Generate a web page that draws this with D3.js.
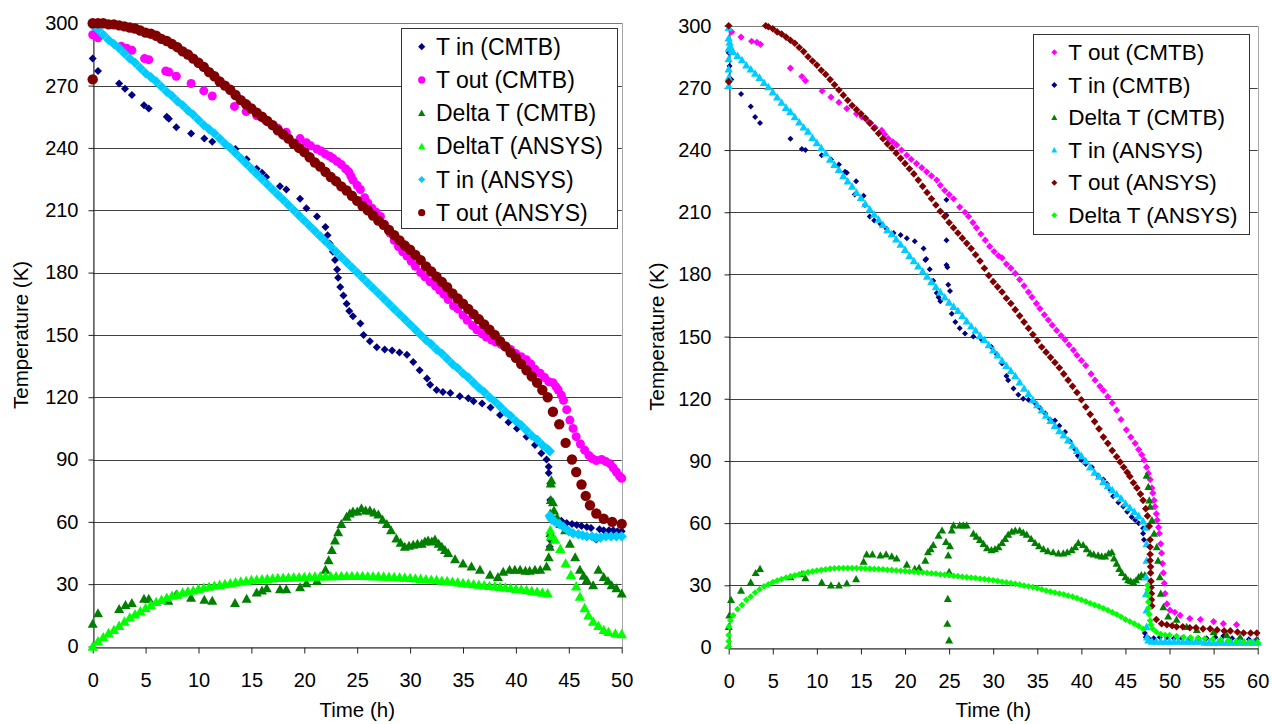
<!DOCTYPE html>
<html>
<head>
<meta charset="utf-8">
<script src="https://cdn.jsdelivr.net/npm/d3@7"></script>
<style>
body { margin: 0; background: #fff; }
text { font-family: "Liberation Sans", Arial, sans-serif; fill: #000; }
</style>
</head>
<body>
<svg id="chart" width="1272" height="724"></svg>
<script>
// ---- shared ticks
var yTicks = [0, 30, 60, 90, 120, 150, 180, 210, 240, 270, 300];
var leftXTicks = [0, 5, 10, 15, 20, 25, 30, 35, 40, 45, 50];
var rightXTicks = [0, 5, 10, 15, 20, 25, 30, 35, 40, 45, 50, 55, 60];

// ---- left chart, [time h, temperature K]
var leftTinCmtb = [[0,283],[0.5,277],[2.5,271],[3.05,268.5],[3.7,265.5],[4.85,260.5],[5.3,259],[7,255],[7.2,254],[7.9,250],[9.3,247],[10.55,244.5],[11.3,243],[13.5,239.5],[14.55,234.5],[15.5,230],[16,228],[16.4,226],[17.7,221.5],[18.3,220],[19.6,215.5],[20.2,211],[21.2,207],[22,202],[22.2,198],[22.4,194],[22.7,190],[22.9,186],[23.1,181.5],[23.2,177.5],[23.4,173],[23.7,169],[24,165],[24.25,161.5],[24.6,159],[25.3,155.5],[25.6,150],[26.2,147],[26.85,144],[27.6,143],[28.3,142.5],[29,141.5],[29.7,140.5],[30.3,137],[30.9,133],[31.6,129],[31.9,126],[32.5,123.5],[33.1,122.5],[33.8,122],[34.7,120.5],[35.5,119.5],[36,118],[36.8,117],[37.6,115],[38.5,111.5],[39.3,108],[40.1,105],[41,101],[41.8,97],[42.4,93],[42.9,90],[43.1,86.5],[43.1,83.5],[43.25,78.5],[43.25,70.5],[43.2,48],[43.3,51],[43.85,61.5],[44.3,60.5],[44.8,59.5],[45.3,59],[45.75,58.5],[46.2,58],[46.7,57.5],[47.1,57],[47.6,51.5],[47.9,56.5],[48.3,56],[48.8,56],[49.2,56],[49.6,55.5],[50,55.5]];
var leftToutCmtb = [[0,294.5],[0.5,293],[2.7,289],[3.2,288],[3.7,287],[4.9,283],[5.3,282.5],[6.9,277],[7.2,276.5],[7.9,274.5],[9.3,271],[10.5,267.5],[11.3,265],[13.4,260],[14.5,257.5],[15.5,255.5],[16.3,253.5],[17.5,249.5],[18.3,247.5],[19.6,244.5],[20.2,242.5],[20.6,241],[21.2,239.5],[21.6,238.5],[22,237],[22.4,236],[22.7,235],[23.1,233.5],[23.5,232],[23.9,230],[24.2,228.5],[24.4,226.5],[24.6,224.5],[25,222],[25.3,220],[25.7,216],[26,213.5],[26.4,211],[26.8,209],[27.2,207],[27.6,203],[28.1,199],[28.5,195.5],[28.9,192.5],[29.3,190],[29.7,188],[30.1,185.5],[30.5,183],[31,180],[31.4,178],[31.9,175.5],[32.4,173.5],[32.8,171.5],[33.2,169.5],[33.6,167],[34.1,164],[34.5,162.5],[35,159.5],[35.4,157],[35.9,154.5],[36.3,152.5],[36.8,150.5],[37.2,149],[37.7,147.5],[38.1,146.5],[38.6,145.5],[39.1,144],[39.5,143],[40,141],[40.5,139.5],[41,138],[41.4,136],[41.8,133.5],[42.3,131.5],[42.7,129.5],[43.1,127.5],[43.5,127],[43.8,125],[44,123.5],[44.3,121],[44.5,118.5],[44.8,114],[45.1,109],[45.4,105],[45.7,101],[46.1,97.5],[46.5,94.5],[46.9,92],[47.2,90.5],[47.6,89.5],[48.1,90],[48.5,89],[48.9,88],[49.2,86],[49.5,84],[49.8,82],[50,81]];
var leftDtCmtb = [[0,11],[0.5,16],[2.5,18],[3.1,20],[3.7,21],[4.85,23],[5.3,23],[7.15,22],[7.9,25],[9.3,23.5],[10.55,22.5],[11.3,22],[13.45,21],[14.55,23],[15.5,26],[16,27],[16.45,28],[17.7,27.5],[18.3,27.5],[19.6,28.5],[20.2,30.5],[21.2,31.5],[22,37],[22.3,41.5],[22.6,46.5],[22.9,51],[23.2,55],[23.5,59],[24,62.5],[24.3,64],[24.6,65],[25,65],[25.4,66.5],[25.8,65.5],[26.2,65.5],[26.6,64.5],[27,63.5],[27.4,61],[27.8,59],[28.2,56],[28.7,52],[29.1,50],[29.5,48],[29.9,48.5],[30.3,49],[30.7,49.5],[31.1,49.5],[31.4,50.5],[31.7,51],[32.05,50.5],[32.35,51.5],[32.7,49.5],[33,48],[33.3,46.5],[33.6,45],[34.25,42],[35,40],[35.8,38.5],[36.6,37],[37.55,34.5],[38.3,33.5],[38.8,36],[39.4,37],[39.9,37],[40.4,37],[40.9,36.5],[41.3,36.5],[41.8,37],[42.3,37],[42.9,38.5],[43.1,43],[43.2,48],[43.25,54.5],[43.25,64],[43.3,70.5],[43.3,78.5],[43.35,80],[43.5,69.5],[43.6,65.5],[43.9,62],[44.2,59],[44.65,56],[45.1,49.5],[45.6,43],[46.05,37],[46.4,34],[46.7,32],[47.3,29.5],[47.8,37],[48.3,33.5],[48.7,31.5],[49.05,29.5],[49.5,28],[50,25.5]];
var leftDtAnsys = [[0,0],[0.5,2.5],[1,4.5],[1.5,6.5],[2,8],[2.5,10],[3,12],[3.5,14],[4,15.5],[4.5,17],[5,18.5],[5.5,20],[6,21.5],[6.5,22.5],[7,23.5],[7.5,24.5],[8,25],[8.5,26],[9,26.5],[9.5,27],[10,27.8],[10.5,28.3],[11,28.8],[11.5,29.3],[12,29.7],[12.5,30.1],[13,30.5],[13.5,30.9],[14,31.3],[14.5,31.6],[15,32],[15.5,32.2],[16,32.4],[16.5,32.6],[17,32.8],[17.5,33],[18,33.1],[18.5,33.2],[19,33.3],[19.5,33.4],[20,33.5],[20.5,33.6],[21,33.7],[21.5,33.8],[22,33.8],[22.5,33.9],[23,33.9],[23.5,34],[24,34],[24.5,34],[25,34],[25.5,34],[26,33.9],[26.5,33.9],[27,33.8],[27.5,33.7],[28,33.6],[28.5,33.5],[29,33.3],[29.5,33.2],[30,33],[30.5,32.8],[31,32.6],[31.5,32.4],[32,32.2],[32.5,32],[33,31.7],[33.5,31.5],[34,31.2],[34.5,30.9],[35,30.6],[35.5,30.3],[36,30],[36.5,29.8],[37,29.5],[37.5,29.2],[38,29],[38.5,28.7],[39,28.4],[39.5,28.1],[40,27.8],[40.5,27.5],[41,27.2],[41.5,26.8],[42,26.4],[42.5,26],[43,25.6],[43.25,56],[43.3,53],[43.7,51.5],[44.2,47],[44.7,40],[45.2,34.5],[45.7,29],[46.05,24],[46.5,18.5],[46.85,15],[47.3,12],[47.8,10],[48.3,8],[48.75,7],[49.4,6.3],[50,6]];
var leftTinAnsys = [[0,299],[0.5,297],[1,294.5],[1.5,292],[2,290],[2.5,288],[3,285.5],[3.5,283],[4,281],[4.5,278.5],[5,276],[5.5,274],[6,272],[6.5,269.5],[7,267],[7.5,265],[8,262.5],[8.5,260.5],[9,258],[9.5,256],[10,253.5],[10.5,251],[11,249],[11.5,247],[12,244.5],[12.5,242],[13,240],[13.5,237.5],[14,235],[14.5,232.5],[15,230],[15.5,227.5],[16,225],[16.5,222.5],[17,220],[17.5,217.5],[18,215],[18.5,212.5],[19,210],[19.5,207.5],[20,205],[20.5,202.5],[21,200],[21.5,197.5],[22,195],[22.5,192.5],[23,190],[23.5,187.5],[24,185],[24.5,182.5],[25,180],[25.5,177.5],[26,175],[26.5,172.5],[27,170],[27.5,167.5],[28,165],[28.5,162.5],[29,160],[29.5,157.5],[30,155],[30.5,152.5],[31,150],[31.5,147.5],[32,145.5],[32.5,143],[33,141],[33.5,138.5],[34,136],[34.5,134],[35,131.5],[35.5,129.5],[36,127],[36.5,124.5],[37,122.5],[37.5,120],[38,118],[38.5,115.5],[39,113],[39.5,111],[40,108.5],[40.5,106.5],[41,104],[41.5,101.5],[42,99.5],[42.5,97],[43,95],[43.2,94],[43.2,63],[43.3,62],[43.4,61],[43.7,60],[44.1,59],[44.5,57.5],[45,55.5],[45.4,54.5],[45.9,54],[46.3,53.5],[46.7,53],[47.2,53],[47.6,52.5],[48,52.5],[48.5,53],[49,53],[49.5,53],[50,53]];
var leftToutAnsys = [[0,273],[0,300],[0.5,300],[1,300],[1.5,299.5],[2,299.5],[2.5,299],[3,298.5],[3.5,298],[4,297.5],[4.5,296.5],[5,295.5],[5.5,295],[6,294],[6.5,292.5],[7,291.5],[7.5,290],[8,288.5],[8.5,286.5],[9,285],[9.5,283],[10,281],[10.5,279],[11,276.5],[11.5,274.5],[12,272],[12.5,270],[13,268],[13.5,265.5],[14,263],[14.5,261],[15,259],[15.5,257],[16,255],[16.5,253],[17,251],[17.5,248.5],[18,246.5],[18.5,244.5],[19,242],[19.5,240],[20,238],[20.5,235.5],[21,233],[21.5,231],[22,228.5],[22.5,226],[23,224],[23.5,221.5],[24,219.5],[24.5,217],[25,214.5],[25.5,212],[26,210],[26.5,207.5],[27,205],[27.5,203],[28,200.5],[28.5,198],[29,195.5],[29.5,193],[30,191],[30.5,188.5],[31,186],[31.5,183],[32,180.5],[32.5,178],[33,175.5],[33.5,173],[34,170],[34.5,167.5],[35,165],[35.5,162.5],[36,160],[36.5,157.5],[37,155],[37.5,152.5],[38,150],[38.5,147],[39,144.5],[39.5,141.5],[40,139],[40.5,136],[41,133],[41.5,130],[42,127],[42.5,123.5],[43,120],[43.5,113],[44.1,107],[44.7,98],[45.3,90],[45.7,84],[46.2,78],[46.6,72.5],[47,68],[47.6,64],[48.3,61.5],[49.1,60],[50,59]];

// ---- right chart, [time h, temperature K]
var rightToutCmtb = [[0.34,297],[1.4,294.5],[2.6,292.5],[3.2,292],[3.6,291],[7,279.5],[8.3,275.5],[8.7,273.5],[10.6,268.5],[11.6,265.5],[12.5,263],[13.4,260],[14.5,257.5],[15.1,256],[15.65,254.5],[16.1,253],[16.6,251],[17.35,249.5],[17.7,247.5],[18.1,245.5],[18.6,244],[19.05,242.5],[19.6,240],[20.2,237.5],[20.7,235.5],[21.3,233.5],[21.9,231.5],[22.45,229.5],[23,227.5],[23.6,225.5],[24,223],[24.5,220.5],[25,218.5],[25.5,216.5],[26.2,212.5],[26.8,210],[27.2,208],[27.7,205],[28.1,202.5],[28.6,199.5],[29.1,196.5],[29.6,193.5],[30.1,191],[30.6,189],[31,188],[31.5,185],[32,183],[32.5,180.5],[33,177.5],[33.5,174.5],[34,171.5],[34.4,169],[34.9,166],[35.3,163.5],[35.8,160.5],[36.25,158],[36.7,155.5],[37.2,153],[37.7,150.5],[38.15,148.5],[38.6,146],[39.1,143.5],[39.5,141],[40,138.5],[40.5,136],[41.1,132],[41.55,129],[42.1,126],[42.5,124],[43,121],[43.5,118],[44,114.5],[44.5,110],[45.1,105],[45.6,101.5],[46.1,98.5],[46.5,95.5],[46.85,93],[47.1,90.5],[47.4,87],[47.6,84],[47.8,81],[48,77],[48.1,74.5],[48.25,71],[48.35,68],[48.5,64.5],[48.6,61.5],[48.75,58],[48.85,55],[49,50],[49.1,45.5],[49.2,40.5],[49.3,36],[49.4,31],[49.5,26],[49.7,21],[50.05,18],[50.6,17],[51.2,15.5],[52.3,14],[53.5,13.5],[55,12.5],[56.1,11.5],[57.6,11]];
var rightTinCmtb = [[0,287],[0.1,280.5],[0.3,274],[1.4,267],[2.5,261],[3,256],[3.55,253],[7,245.5],[8.3,240.5],[8.7,240],[10.55,237.5],[11.6,235.5],[12.5,233],[13.2,229.5],[13.4,229],[14.45,225],[14.3,218.5],[15.3,218],[15.45,213.5],[16,208],[16.5,206],[17.2,204.5],[17.9,202],[18.7,200],[19.5,199],[20.2,197.5],[21.1,196],[22.1,192.5],[22.3,187],[22.4,187.5],[22.8,182.5],[23.2,177],[23.6,171],[23.8,169],[24,167],[24.7,216],[24.7,208.5],[24.7,196.5],[24.7,184.5],[24.8,183.5],[24.9,175],[25.1,172],[25.3,161],[25.7,157],[26.2,154],[26.8,151.5],[27.75,150],[28.7,148.5],[29.8,145],[30.4,141.5],[31,137],[31.5,131],[31.7,129],[32.3,125],[32.85,122],[33.4,120],[34,119.5],[34.75,118],[35.3,115.5],[35.9,113],[36.45,110],[37,109.5],[37.5,107],[38.15,104],[38.7,99.5],[39.3,95.5],[39.6,92.5],[40,90.5],[40.5,88.5],[41.2,87],[41.9,83],[42.5,81],[42.9,79],[43.3,76],[43.6,73],[44.2,70],[44.75,68],[45.2,65.5],[45.7,63],[46.1,61.5],[46.5,60],[47,57.5],[47,55],[47.1,52],[47.2,7],[47.3,5],[47.6,4.5],[48.2,4.5],[48.9,5],[49.7,5],[50.5,4.5],[51.4,4.5],[52.3,4.5],[53.3,4.5],[54.2,4.5],[55.2,5],[56.1,5.5],[57.1,4.5],[58,4.5],[59,4],[59.9,4]];
var rightDtCmtb = [[0,10],[0.07,15.5],[0.26,23],[1.4,27.5],[2.5,31.5],[3.06,36],[3.55,38],[7,34],[8.3,35.5],[8.7,33.5],[10.55,31.5],[11.6,30],[12.5,30],[13.4,31],[14.45,33],[15.3,41.5],[15.65,45],[16.3,45],[17.2,44.5],[17.85,45],[18.5,44],[19.05,43],[20.2,40],[21.1,38],[21.6,38.5],[22.3,42],[22.6,46],[22.9,47.5],[23.2,49.5],[23.8,54],[24.2,56.5],[24.65,51],[24.9,44.5],[24.85,23.5],[24.8,11.5],[25,3.5],[25,36.5],[25.1,49],[25.3,56.5],[25.5,59],[26.2,59],[26.6,59],[27,59],[27.75,55],[28.1,53.5],[28.5,52],[28.9,50],[29.3,48],[29.8,47],[30.2,47.5],[30.6,48.5],[31,50.5],[31.35,52.5],[31.7,54.5],[32.1,56],[32.5,56.5],[33,56.5],[33.4,55.5],[33.8,54.5],[34.3,52.5],[34.75,50.5],[35.2,49],[35.7,47.5],[36.2,46.5],[36.8,46],[37.4,45.5],[37.95,45.5],[38.4,46],[38.9,47],[39.3,48.5],[39.65,50.5],[40.2,49.5],[40.6,47.5],[41,45.5],[41.4,45],[41.9,44.5],[42.3,44],[42.7,44],[43.1,45.5],[43.45,46],[43.7,43],[44,40.5],[44.3,38],[44.6,36],[45,34],[45.3,32.5],[45.6,32],[45.9,31.5],[46.2,32.5],[46.5,34],[46.8,35],[47.2,35],[47.4,83],[47.6,77.5],[47.7,71],[47.8,68],[48,61.5],[48.25,55],[48.55,48.5],[48.7,42],[48.9,34],[49,26],[49.3,19.5],[49.85,15],[50.8,13.5],[51.95,10],[53.1,8.5],[55,7.5],[56.5,6],[58,5],[59.9,3.5]];
var rightTinAnsys = [[0,299],[0,294],[0,289],[0,284],[0,279],[0,275],[0,271],[0.1,292],[0.2,290],[0.34,288],[0.5,287.5],[1,285.5],[1.5,283.5],[2,281],[2.5,279],[3,277],[3.5,275],[4,272.5],[4.5,270.5],[5,268],[5.5,265.5],[6,263],[6.5,260.5],[7,258.5],[7.5,256],[8,253.5],[8.5,251],[9,249],[9.5,246],[10,243.5],[10.5,241],[11,238.5],[11.5,235.5],[12,233],[12.5,230.5],[13,227.5],[13.5,225],[14,222.5],[14.5,219.5],[15,217],[15.5,214],[16,211.5],[16.5,209],[17,206.5],[17.5,204],[18,201.5],[18.5,199.5],[19,197],[19.5,194.5],[20,192],[20.5,189],[21,186.5],[21.5,184],[22,181.5],[22.5,179],[23,176.5],[23.5,174],[24,171.5],[24.5,169],[25,166.5],[25.5,164.5],[26,162.5],[26.5,160],[27,157.5],[27.5,155],[28,153],[28.5,150.5],[29,148.5],[29.5,146],[30,143.5],[30.5,141],[31,138.5],[31.5,136],[32,133.5],[32.5,131],[33,128],[33.5,125],[34,122.5],[34.5,119.5],[35,117],[35.5,114.5],[36,112],[36.5,109.5],[37,107],[37.5,104.5],[38,102.5],[38.5,100],[39,97.5],[39.5,95],[40,92.5],[40.5,90],[41,87],[41.5,84.5],[42,82.5],[42.5,80],[43,78],[43.5,76],[44,74],[44.5,72],[45,69.5],[45.5,67.5],[46,65.5],[46.5,63.5],[47,61],[47.3,58],[47.4,50],[47.4,42],[47.35,34],[47.35,26],[47.4,18],[47.4,10],[47.45,5],[47.6,3.5],[48,3],[48.5,3],[49,3],[49.5,3],[50,3],[50.5,3],[51,3],[51.5,3],[52,3],[52.5,3],[53,3],[53.5,3],[54,2.5],[54.5,2.5],[55,2.5],[55.5,2.5],[56,2.5],[56.5,2.5],[57,2.5],[57.5,2.5],[58,2.5],[58.5,2.5],[59,2.5],[59.5,2.5],[60,2.5]];
var rightToutAnsys = [[0,300],[0,273],[4.2,300],[4.5,299.5],[5,298.5],[5.5,297],[6,296],[6.5,294.5],[7,293],[7.5,291.5],[8,289.5],[8.5,287.5],[9,285],[9.5,283],[10,281],[10.5,278.5],[11,276.5],[11.5,274],[12,271.5],[12.5,269],[13,266.5],[13.5,264],[14,261.5],[14.5,259.5],[15,257.5],[15.5,255.5],[16,253],[16.5,250.5],[17,248],[17.5,245.5],[18,243],[18.5,241],[19,238.5],[19.5,236],[20,233.5],[20.5,231],[21,228.5],[21.5,225.5],[22,222.5],[22.5,219.5],[23,216.5],[23.5,213.5],[24,210.5],[24.5,208],[25,205],[25.5,202.5],[26,200],[26.5,197.5],[27,195],[27.5,192.5],[28,189.5],[28.5,186.5],[29,183],[29.5,179.5],[30,176.5],[30.5,174],[31,171.5],[31.5,168.5],[32,166],[32.5,163],[33,160],[33.5,157],[34,154],[34.5,151],[35,148],[35.5,145],[36,142.5],[36.5,140],[37,137.5],[37.5,135],[38,132],[38.5,129],[39,126],[39.5,123],[40,119.5],[40.5,116],[41,112.5],[41.5,109],[42,105.5],[42.5,101.5],[43,98.5],[43.5,95],[44,92],[44.4,89.5],[44.8,87],[45.2,84.5],[45.5,82.5],[45.9,79.5],[46.3,77],[46.7,74],[47,71],[47.3,67],[47.5,63.5],[47.7,58.5],[47.8,52],[47.8,48.5],[47.8,45],[47.8,42],[47.85,39],[47.85,36],[47.9,32],[47.9,29],[47.95,26],[47.95,23],[48,20],[48.5,13.5],[49.1,11.5],[49.7,11],[50.3,10.5],[50.8,10],[51.5,10],[52.3,9.5],[53,9.5],[53.8,9],[54.6,9],[55.4,8.5],[56.2,8],[56.9,8],[57.7,7.5],[58.4,7],[59.2,7],[59.9,7]];
var rightDtAnsys = [[0,0.5],[0,3],[0,6],[0.05,10],[0.2,13],[0.5,15.5],[1,18.5],[1.5,20.5],[2,23],[2.5,24.5],[3,26.5],[3.5,28],[4,29.5],[4.5,30.5],[5,31.5],[5.5,32.3],[6,33],[6.5,33.7],[7,34.3],[7.5,34.8],[8,35.3],[8.5,35.8],[9,36.3],[9.5,36.7],[10,37.1],[10.5,37.4],[11,37.7],[11.5,38],[12,38.2],[12.5,38.3],[13,38.3],[13.5,38.3],[14,38.3],[14.5,38.3],[15,38.2],[15.5,38.1],[16,38],[16.5,37.9],[17,37.8],[17.5,37.7],[18,37.5],[18.5,37.4],[19,37.2],[19.5,37],[20,36.9],[20.5,36.7],[21,36.5],[21.5,36.3],[22,36.2],[22.5,36],[23,35.8],[23.5,35.6],[24,35.3],[24.5,35.1],[25,34.9],[25.5,34.6],[26,34.4],[26.5,34.1],[27,33.9],[27.5,33.7],[28,33.5],[28.5,33.2],[29,33],[29.5,32.7],[30,32.4],[30.5,32.1],[31,31.7],[31.5,31.4],[32,31],[32.5,30.7],[33,30.3],[33.5,29.9],[34,29.5],[34.5,29.1],[35,28.6],[35.5,28],[36,27.4],[36.5,27],[37,26.5],[37.5,26],[38,25.6],[38.5,25],[39,24.5],[39.5,23.8],[40,23],[40.5,22.2],[41,21.3],[41.5,20.5],[42,19.8],[42.5,18.9],[43,18],[43.5,17],[44,16],[44.5,14.8],[45,13.5],[45.5,12.5],[46,11.5],[46.5,10.4],[47,9],[47.5,30],[47.55,28],[47.6,25],[47.6,22],[47.65,19],[47.7,16],[47.8,13],[47.9,11],[48.1,9],[48.5,7.5],[49,6.5],[49.5,6],[50,6],[50.8,5.5],[51.6,5],[52.4,4.8],[53.2,4.5],[54,4.3],[54.9,4],[55.8,3.7],[56.7,3.3],[57.6,3],[58.4,2.7],[59.2,2.5],[60,2.3]];

var navy = "#000080", magenta = "#ff00ff", dkgreen = "#008000",
    lime = "#00ff00", skyblue = "#00ccff", dkred = "#800000";

function markerPath(shape, s)
{
    if (shape == "circle")
        return d3.symbol().type(d3.symbolCircle).size(Math.PI * s * s)();
    if (shape == "triangle")
        return "M0," + (-s) + "L" + s + "," + (s * 0.8) + "L" + (-s) + "," + (s * 0.8) + "Z";
    return "M0," + (-s) + "L" + s + ",0L0," + s + "L" + (-s) + ",0Z";
}

var svg = d3.select("#chart");

function drawPanel(p)
{
    var x = d3.scaleLinear().domain([0, p.xMax]).range([p.left, p.right]);
    var y = d3.scaleLinear().domain([0, 300]).range([p.bottom, p.top]);
    var g = svg.append("g");

    // plot border
    g.append("rect")
        .attr("x", Math.round(p.left) + 0.5).attr("y", Math.round(p.top) + 0.5)
        .attr("width", Math.round(p.right) - Math.round(p.left))
        .attr("height", Math.round(p.bottom) - Math.round(p.top))
        .attr("fill", "none").attr("stroke", "#a6a6a6");

    // horizontal grid
    g.selectAll(".grid").data(yTicks.slice(1)).enter().append("line")
        .attr("x1", p.left).attr("x2", p.right)
        .attr("y1", function(d) { return Math.round(y(d)) + 0.5; })
        .attr("y2", function(d) { return Math.round(y(d)) + 0.5; })
        .attr("stroke", function(d) { return d == 300 ? "#7a7a7a" : "#404040"; })
        .attr("stroke-width", 1);

    var yAxis = d3.axisLeft(y).tickValues(yTicks).tickSize(5).tickSizeOuter(0).tickPadding(p.yPad);
    var xAxis = d3.axisBottom(x).tickValues(p.xTicks).tickSize(6).tickSizeOuter(0).tickPadding(19);

    var ya = g.append("g").attr("transform", "translate(" + (Math.round(p.left) + 0.5) + ",0)").call(yAxis);
    var xa = g.append("g").attr("transform", "translate(0," + (Math.round(p.bottom) + 0.5) + ")").call(xAxis);
    [ya, xa].forEach(function(a) {
        a.selectAll("path, line").attr("stroke", "#222");
        a.selectAll("text").style("font-size", "20px").attr("fill", "#000");
    });

    g.append("text")
        .attr("transform", "translate(" + p.yTitleX + "," + ((p.top + p.bottom) / 2) + ") rotate(-90)")
        .attr("text-anchor", "middle").style("font-size", "20.5px")
        .text("Temperature (K)");
    g.append("text")
        .attr("x", (p.left + p.right) / 2).attr("y", 717)
        .attr("text-anchor", "middle").style("font-size", "20.5px")
        .text("Time (h)");

    // series, in drawing order
    p.series.forEach(function(s) {
        var d = markerPath(s.shape, s.size);
        g.append("g").selectAll("path").data(s.data).enter().append("path")
            .attr("d", d)
            .attr("transform", function(v) { return "translate(" + x(v[0]) + "," + y(v[1]) + ")"; })
            .attr("fill", s.color);
    });

    // legend
    var L = p.legend;
    var lg = g.append("g");
    lg.append("rect")
        .attr("x", L.x + 0.5).attr("y", L.y + 0.5).attr("width", L.w).attr("height", L.h)
        .attr("fill", "#fff").attr("stroke", "#333");
    L.order.forEach(function(idx, i) {
        var s = p.series[idx];
        var cy = L.y + L.first + i * L.step;
        lg.append("path")
            .attr("d", markerPath(s.shape, L.marker))
            .attr("transform", "translate(" + L.mx + "," + cy + ")")
            .attr("fill", s.color);
        lg.append("text")
            .attr("x", L.tx).attr("y", cy + L.base)
            .style("font-size", L.font + "px")
            .text(s.name);
    });
}

drawPanel({
    left: 92.7, right: 621.7, top: 23.3, bottom: 646.5, xMax: 50, xTicks: leftXTicks,
    yPad: 10, yTitleX: 28,
    series: [
        { name: "T in (CMTB)", data: leftTinCmtb, color: navy, shape: "diamond", size: 4 },
        { name: "T out (CMTB)", data: leftToutCmtb, color: magenta, shape: "circle", size: 4.5 },
        { name: "Delta T (CMTB)", data: leftDtCmtb, color: dkgreen, shape: "triangle", size: 5 },
        { name: "DeltaT (ANSYS)", data: leftDtAnsys, color: lime, shape: "triangle", size: 5.2 },
        { name: "T in (ANSYS)", data: leftTinAnsys, color: skyblue, shape: "diamond", size: 5.2 },
        { name: "T out (ANSYS)", data: leftToutAnsys, color: dkred, shape: "circle", size: 5.2 }
    ],
    legend: { x: 401, y: 28, w: 216, h: 200, mx: 421.7, tx: 436, first: 18.7, step: 33.2,
              base: 8, font: 23, marker: 3.6, order: [0, 1, 2, 3, 4, 5] }
});

drawPanel({
    left: 728.7, right: 1257.7, top: 25.7, bottom: 647.5, xMax: 60, xTicks: rightXTicks,
    yPad: 13, yTitleX: 664,
    series: [
        { name: "T out (CMTB)", data: rightToutCmtb, color: magenta, shape: "diamond", size: 3.6 },
        { name: "T in (CMTB)", data: rightTinCmtb, color: navy, shape: "diamond", size: 3 },
        { name: "Delta T (CMTB)", data: rightDtCmtb, color: dkgreen, shape: "triangle", size: 4 },
        { name: "T in (ANSYS)", data: rightTinAnsys, color: skyblue, shape: "triangle", size: 4.2 },
        { name: "T out (ANSYS)", data: rightToutAnsys, color: dkred, shape: "diamond", size: 3.8 },
        { name: "Delta T (ANSYS)", data: rightDtAnsys, color: lime, shape: "diamond", size: 3.4 }
    ],
    legend: { x: 1033, y: 34, w: 216, h: 200, mx: 1054.3, tx: 1068.3, first: 18.3, step: 32.6,
              base: 7.7, font: 22.5, marker: 3, order: [0, 1, 2, 3, 4, 5] }
});
</script>
</body>
</html>
